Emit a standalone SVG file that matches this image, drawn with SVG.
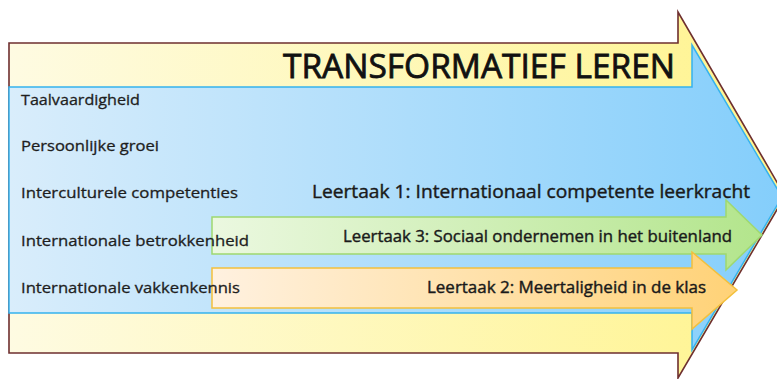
<svg xmlns="http://www.w3.org/2000/svg" width="777" height="379" viewBox="0 0 777 379">
<defs>
<linearGradient id="gY" x1="0" y1="0" x2="1" y2="0"><stop offset="0" stop-color="#fefbe2"/><stop offset="1" stop-color="#fff48e"/></linearGradient>
<linearGradient id="gB" x1="0" y1="0" x2="1" y2="0"><stop offset="0" stop-color="#d9edfb"/><stop offset="1" stop-color="#84cefb"/></linearGradient>
<linearGradient id="gG" x1="0" y1="0" x2="1" y2="0"><stop offset="0" stop-color="#ebf8e0"/><stop offset="1" stop-color="#b3e58c"/></linearGradient>
<linearGradient id="gO" x1="0" y1="0" x2="1" y2="0"><stop offset="0" stop-color="#fff1e0"/><stop offset="1" stop-color="#ffd277"/></linearGradient>
</defs>
<style>
.lbl{font-family:"Open Sans","Liberation Sans",sans-serif;font-size:15px;fill:#1e1e1e;stroke:#1e1e1e;stroke-width:0.3px}
.big{font-family:"Open Sans","Liberation Sans",sans-serif;fill:#1a1a1a;stroke:#1a1a1a;stroke-width:0.4px}
.title{stroke-width:0.8px;fill:#111;stroke:#111}
</style>
<g id="outer-arrow">
<polygon points="9,43 678,43 678,12 785,196 678,378 678,353 9,353" fill="url(#gY)" stroke="#6e2f2f" stroke-width="1.6"/>
</g>
<g id="main-arrow">
<polygon points="9,87 692,87 692,45 782,197 692,350 692,313 9,313" fill="url(#gB)" stroke="#35b2ee" stroke-width="1.5"/>
</g>
<g id="leertaak3">
<polygon points="212,217 726,217 726,200 762,235 726,270 726,254 212,254" fill="url(#gG)" stroke="#9fd870" stroke-width="1.5"/>
</g>
<g id="leertaak2">
<polygon points="212,268 692,268 692,252 737,290 692,329 692,308 212,308" fill="url(#gO)" stroke="#f3c03c" stroke-width="1.5"/>
</g>
<g id="texts">
<text class="big title" x="283" y="78" font-size="33" textLength="392" lengthAdjust="spacingAndGlyphs">TRANSFORMATIEF LEREN</text>
<text class="lbl" x="21" y="105" textLength="119" lengthAdjust="spacingAndGlyphs">Taalvaardigheid</text>
<text class="lbl" x="21" y="151" textLength="138" lengthAdjust="spacingAndGlyphs">Persoonlijke groei</text>
<text class="lbl" x="21" y="198" textLength="217" lengthAdjust="spacingAndGlyphs">Interculturele competenties</text>
<text class="lbl" x="21" y="246" textLength="228" lengthAdjust="spacingAndGlyphs">Internationale betrokkenheid</text>
<text class="lbl" x="21" y="293" textLength="219" lengthAdjust="spacingAndGlyphs">Internationale vakkenkennis</text>
<text class="big" x="312" y="198" font-size="18" textLength="438" lengthAdjust="spacingAndGlyphs">Leertaak 1: Internationaal competente leerkracht</text>
<text class="big" x="343" y="242" font-size="16" textLength="389" lengthAdjust="spacingAndGlyphs">Leertaak 3: Sociaal ondernemen in het buitenland</text>
<text class="big" x="427" y="293" font-size="16" textLength="279" lengthAdjust="spacingAndGlyphs">Leertaak 2: Meertaligheid in de klas</text>
</g>
</svg>
